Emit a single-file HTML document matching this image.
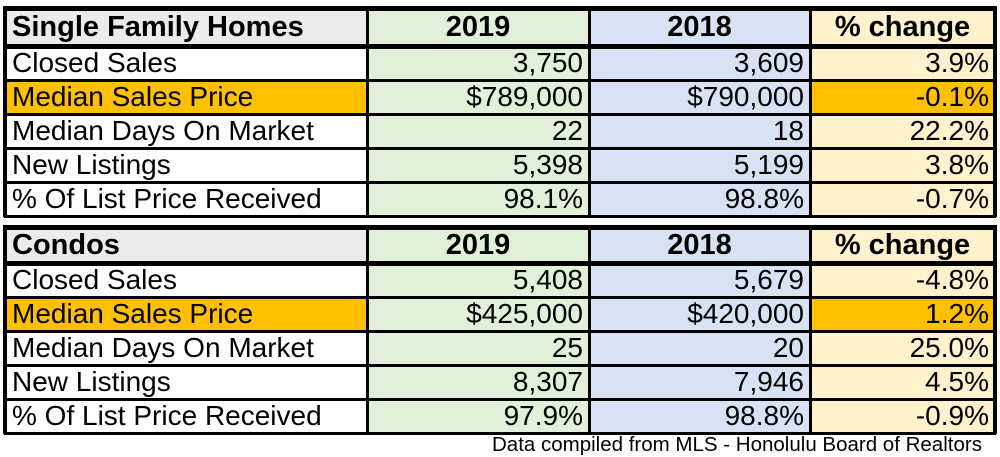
<!DOCTYPE html>
<html><head><meta charset="utf-8"><style>
body{margin:0;width:1000px;height:457px;background:#fff;position:relative;overflow:hidden;font-family:"Liberation Sans",Arial,sans-serif;}
.c{position:absolute;box-sizing:border-box;font-size:28px;line-height:1;color:#000;white-space:nowrap;display:flex;align-items:center;overflow:hidden}
.l{padding-left:7px}
.r{justify-content:flex-end;padding-right:6px}
.h{font-weight:bold;font-size:29px;justify-content:center}
.ln{position:absolute;background:#000}
.foot{position:absolute;left:492px;top:433px;font-size:20.5px;color:#000;white-space:nowrap}
</style></head><body>
<div id="t"></div>
<div class="foot">Data compiled from MLS - Honolulu Board of Realtors</div>
<script>
var X=[5,367,589,810,995];
var cols=['#fff','#e2f0d9','#d9e2f5','#fff2cc'];
function table(top,rows,data){
 var h='';
 for(var i=0;i<rows.length-1;i++){
  for(var j=0;j<4;j++){
   var bg=cols[j];
   if(i==0&&j==0)bg='#ebebeb';
   if(i==2&&(j==0||j==3))bg='#ffc000';
   var cls='c '+(i==0?(j==0?'h l':'h'):(j==0?'l':'r'));
   var st=(i==0&&j==0)?'justify-content:flex-start;':'';
   h+='<div class="'+cls+'" style="'+st+'left:'+X[j]+'px;top:'+rows[i]+'px;width:'+(X[j+1]-X[j])+'px;height:'+(rows[i+1]-rows[i])+'px;background:'+bg+'">'+data[i][j]+'</div>';
  }
 }
 for(var i=0;i<rows.length;i++){
  var th=(i<=1)?5:3;
  h+='<div class="ln" style="left:'+(X[0]-1)+'px;top:'+(rows[i]-Math.floor(th/2))+'px;width:'+(X[4]-X[0]+2)+'px;height:'+th+'px"></div>';
 }
 for(var j=0;j<5;j++){
  var th=(j==0||j==4)?4:3;
  h+='<div class="ln" style="left:'+(X[j]-Math.floor(th/2))+'px;top:'+(rows[0]-2)+'px;width:'+th+'px;height:'+(rows[rows.length-1]-rows[0]+3)+'px"></div>';
 }
 return h;
}
var d1=[['Single Family Homes','2019','2018','% change'],['Closed Sales','3,750','3,609','3.9%'],['Median Sales Price','$789,000','$790,000','-0.1%'],['Median Days On Market','22','18','22.2%'],['New Listings','5,398','5,199','3.8%'],['% Of List Price Received','98.1%','98.8%','-0.7%']];
var d2=[['Condos','2019','2018','% change'],['Closed Sales','5,408','5,679','-4.8%'],['Median Sales Price','$425,000','$420,000','1.2%'],['Median Days On Market','25','20','25.0%'],['New Listings','8,307','7,946','4.5%'],['% Of List Price Received','97.9%','98.8%','-0.9%']];
document.getElementById('t').innerHTML=table(8,[8,46,80,114,148,182,216],d1)+table(227,[227,263,297,331,365,399,433],d2);
</script>
</body></html>
